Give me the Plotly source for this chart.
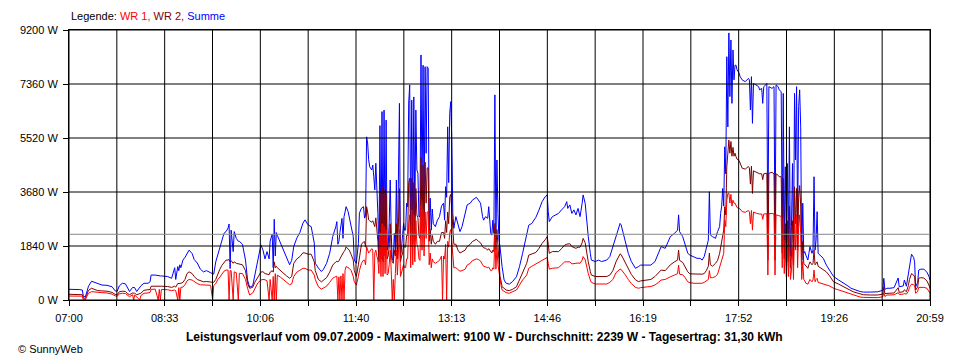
import plotly.graph_objects as go

# ---- data (minutes after 07:00, watts) ----
minutes = [0,5,10,13,14,16,17,19,22,25,28,32,37,42,45,47,49,52,55,57,59,62,63,64,66,69,70,73,77,79,80,84,87,88,89,90,96,100,103,104,106,107,108,109,111,113,115,117,120,122,125,128,131,134,138,140,141,143,145,147,149,151,153,155,156,157,158,160,161,163,165,166,169,172,174,176,179,181,184,187,189,191,193,195,196,198,199,200,201,202,203,206,209,212,215,217,
219,222,225,228,230,233,236,239,240,243,246,248,251,254,257,260,261,262,263,264,265,266,267,268,269,270,272,273,275,277,278,280,282,283,285,287,288,289,290,291,292,293,295,296,297,298,299,300,301,302,303,304,305,306,307,308,309,310,311,312,313,314,315,316,317,318,319,320,321,322,323,324,325,326,327,328,329,330,331,332,333,334,335,336,337,338,339,340,341,342,343,344,345,346,347,348,349,350,351,352,353,354,355,357,359,361,363,364,365,366,367,368,369,370,371,372,373,374,375,377,379,381,383,
386,388,391,393,397,399,401,403,404,406,408,409,411,412,413,414,415,416,417,418,419,420,421,422,424,426,429,432,436,439,442,446,448,451,455,458,461,464,466,467,468,471,474,477,480,483,485,486,488,490,492,494,496,498,500,501,503,504,506,508,509,513,516,519,524,527,530,533,537,538,540,542,545,548,552,555,557,561,564,567,571,574,577,581,583,586,590,593,594,595,598,600,603,605,609,612,615,617,619,621,623,624,625,627,630,632,
634,635,636,637,638,639,640,641,642,643,644,645,646,647,648,649,650,651,653,654,656,659,662,663,664,665,666,667,670,672,673,675,676,677,679,680,681,682,685,687,688,689,691,692,694,695,696,697,698,699,700,701,702,703,704,705,706,707,708,709,710,711,712,713,714,715,716,717,718,720,721,722,724,725,726,727,728,729,730,732,
735,738,741,745,750,755,759,762,765,769,771,774,781,788,793,794,795,797,800,804,808,809,813,814,816,818,819,821,823,824,825,827,828,830,833,836,838,839]

summe = [365,370,355,340,120,110,250,470,640,600,560,510,500,450,310,300,480,570,550,400,290,430,420,420,290,450,480,570,570,620,850,850,820,820,820,820,800,740,1100,700,1140,1000,1200,1100,1360,1450,1600,1700,1580,1380,1260,1050,960,1000,930,900,880,1300,1560,1830,2000,2270,2330,2450,2590,1070,2380,1650,2330,2100,2000,2000,1900,1360,680,440,480,840,1360,1880,1700,1400,1650,1400,2000,2250,1100,2750,1500,2300,2200,1950,1650,1420,1200,1350,
1820,2110,2300,2620,2730,2560,2500,1940,1250,1090,970,1050,1250,1590,2160,2500,2670,1900,2000,2300,2670,2780,2100,2840,3000,3180,3010,2840,2610,2160,1360,1250,1930,2960,3130,3180,2790,2850,5560,5350,4780,4540,4430,4600,4200,3750,4660,3860,2950,1590,5940,1700,6420,1360,6470,1700,6130,1700,1800,2610,4090,2270,1360,1400,2270,1700,4090,1590,3980,6700,1360,1800,1930,2610,2380,2380,3300,3180,6710,7330,2380,6810,2610,6920,2840,6470,4430,4320,2840,2850,8350,3470,8000,2840,7950,5000,7950,7900,2380,3470,2380,3100,2600,2500,2720,2840,3200,3250,3300,2720,3860,3500,5900,4000,6360,6760,5470,2960,2440,2840,2560,2330,2500,
2900,3240,3300,3400,3500,3400,3300,2840,2720,2840,2780,3180,2270,2210,2720,2270,6990,2210,4770,2950,2040,1820,1360,1140,680,570,540,620,790,1140,1590,2270,2550,2610,2820,3070,3350,3520,3580,3010,2670,2840,2900,2950,3070,3180,3350,3120,3240,2950,3070,2900,3120,2840,3290,3580,3290,2840,2160,1590,1360,1310,1360,1310,1360,1480,1820,2210,2610,2560,2270,1930,1590,1310,1080,1140,1190,1190,1190,1190,1310,1590,1820,1760,1930,2160,2270,2380,2900,2330,2160,1930,1590,1530,1480,1420,1420,1360,1480,1760,2040,3690,2210,2160,2100,2330,
2500,2950,3200,3800,3200,5220,4300,8290,5900,9100,6930,8860,6700,8520,7500,8000,8000,7840,7730,7610,7500,7440,7550,7500,6475,7610,6020,7380,7330,7270,7160,7210,6700,7270,7330,7380,2040,7270,7210,7270,2040,7330,7270,7160,7100,2270,7040,2040,4540,1930,4650,1820,5900,1500,2500,4650,1700,7040,4770,7270,2500,6590,7160,5900,1360,3300,1590,1650,1530,1360,1590,1820,1590,1700,4200,1700,2040,3010,1590,1530,
1420,1190,1020,800,680,580,480,400,350,310,290,270,270,280,330,740,360,400,400,420,750,450,480,680,470,900,1250,1560,1450,1300,450,600,1020,1050,1050,950,800,680]

wr2 = [195,195,190,180,60,60,150,330,400,370,320,310,300,260,190,180,280,300,290,220,180,240,230,230,180,220,230,330,340,360,470,480,470,470,470,470,460,430,470,440,560,560,580,570,600,700,900,960,900,800,700,650,620,630,610,600,600,700,900,1050,1180,1280,1360,1360,1380,1300,1340,1250,1300,1250,1230,1230,1200,1000,560,400,430,600,800,950,965,900,880,860,950,1000,950,1300,1100,1150,1100,1000,900,820,740,800,
1250,1400,1480,1610,1600,1560,1560,1300,1000,700,620,680,760,950,1190,1300,1320,1300,1330,1400,1480,1550,1600,1650,1700,1810,1750,1700,1550,1360,1000,800,1200,1500,1900,1980,1990,1800,3180,3000,2730,2700,2650,2700,2600,2500,2800,2400,2000,1300,3700,1400,3860,1300,3750,1500,3600,1400,1500,1800,2600,1600,1300,1250,1700,1500,2600,1400,2600,3800,1300,1500,1550,1900,1800,1800,2200,2200,4000,4150,1800,4150,1900,4000,2000,3800,2900,2800,2200,2100,4870,2500,4600,2300,4700,3300,4500,4500,2000,2400,1900,2200,2000,1900,2000,2000,2300,2300,2300,2100,2700,2300,3000,2600,3500,3600,3000,2100,1900,1900,1700,1600,1650,
1700,1820,1900,1990,2070,2000,1950,1820,1780,1760,1700,1750,1650,1600,1700,1650,2610,1700,2400,1800,1250,800,650,450,400,340,320,360,450,680,960,1250,1530,1560,1620,1760,1930,2050,2160,1900,1590,1650,1650,1650,1750,1870,1900,1900,1920,1820,1800,1760,1800,1800,1950,2100,1950,1700,1300,970,850,800,800,800,800,850,1000,1300,1570,1550,1420,1250,1050,870,690,625,650,680,700,700,800,900,1020,1000,1080,1200,1300,1360,1700,1350,1280,1150,960,890,880,870,870,880,900,1000,1150,1600,1200,1150,1250,1350,
1590,1760,1930,2200,2385,3180,2900,4540,5220,5450,5000,5400,4900,5200,4900,5000,4880,4800,4750,4650,4490,4460,4550,4500,3950,4560,3630,4400,4350,4320,4300,4300,4100,4300,4300,4320,1360,4320,4350,4300,1360,4300,4250,4200,4200,1600,4150,1400,2600,1300,2700,1300,3200,1100,1500,2700,1200,3860,2600,3800,1700,3500,3900,3200,1200,2000,1250,1200,1140,1080,1200,1300,1200,1250,1700,1200,1250,1300,1150,1100,
1050,960,830,620,540,460,390,320,270,230,200,180,170,170,200,450,220,230,230,240,420,260,280,350,280,500,700,900,850,780,340,450,740,760,750,650,500,400]

wr1 = [135,140,135,130,0,0,100,230,285,270,250,250,240,200,140,130,210,230,220,160,110,180,0,170,110,0,150,230,240,260,360,370,0,360,0,360,350,320,340,320,0,420,0,430,440,520,650,700,680,620,560,520,510,510,500,0,490,560,700,780,900,980,1020,1020,0,1000,1000,0,960,930,0,910,900,700,400,170,240,400,580,680,700,690,650,0,700,0,800,0,900,0,850,780,700,620,520,550,
800,950,1020,1080,1080,1020,1020,850,700,450,370,400,470,600,740,800,810,0,790,0,820,0,900,0,1000,1140,1100,1080,1000,800,620,510,800,1000,1250,1360,1360,1200,1820,1700,1600,1650,1750,1700,0,1600,1700,1500,1360,900,2300,800,2600,800,2500,900,2400,850,900,1200,1700,1000,0,700,0,900,1700,850,1650,2400,800,950,1000,1200,1100,1100,1400,1400,2600,2900,1100,3070,1200,2900,1300,2700,1900,1800,1400,1350,3200,1700,3100,1500,3000,2100,3000,3000,1200,1600,1100,1400,1300,1250,1300,1350,1500,0,1500,1400,1900,0,2000,1800,2300,2400,2000,1500,1100,1100,1050,980,1000,
1050,1190,1250,1340,1400,1380,1330,1200,1150,1130,1100,1120,1000,1000,1100,1050,2160,1050,1800,1200,900,680,500,340,300,250,230,280,340,510,680,850,1080,1150,1230,1300,1360,1400,1450,1250,1050,1080,1100,1100,1200,1300,1300,1300,1300,1230,1250,1250,1260,1250,1360,1480,1370,1170,900,680,600,545,545,545,545,600,700,930,1050,1040,960,860,700,560,430,400,420,450,450,460,510,590,680,700,740,790,850,900,1190,880,860,780,620,590,570,570,570,570,600,650,700,1000,760,760,800,880,
1140,1250,1420,1500,1590,2726,2500,3400,3630,3640,3300,3600,3200,3400,3300,3300,3240,3150,3120,3100,3010,2990,3050,3000,2600,3050,2380,3000,2950,2930,2930,2930,2750,2930,2930,2940,850,2940,2950,2930,850,2900,2880,2870,2850,1100,2800,900,1800,800,1900,800,2200,700,1000,1800,700,2900,1700,2900,1100,2500,2900,2300,700,1300,700,650,570,540,620,700,620,680,1020,620,700,740,600,580,
560,520,480,400,340,290,240,190,150,120,100,90,80,80,110,250,120,170,170,180,250,190,200,220,200,300,430,540,520,500,230,300,430,430,430,400,300,230]

average_w = 2239
total_minutes = 839
x_labels = ["07:00", "08:33", "10:06", "11:40", "13:13", "14:46", "16:19", "17:52", "19:26", "20:59"]
y_ticks = [0, 1840, 3680, 5520, 7360, 9200]
y_labels = ["0 W", "1840 W", "3680 W", "5520 W", "7360 W", "9200 W"]
title_text = "Leistungsverlauf vom 09.07.2009 - Maximalwert: 9100 W - Durchschnitt: 2239 W - Tagesertrag: 31,30 kWh"

FONT = "Liberation Sans, Arial, sans-serif"

n_grid = 2 * (len(x_labels) - 1)
grid_x = [i * total_minutes / n_grid for i in range(n_grid + 1)]
grid_text = [x_labels[i // 2] if i % 2 == 0 else "" for i in range(n_grid + 1)]

fig = go.Figure()
fig.add_trace(go.Scatter(x=minutes, y=summe, mode="lines", name="Summe",
                         line=dict(color="#0000FF", width=1)))
fig.add_trace(go.Scatter(x=minutes, y=wr2, mode="lines", name="WR 2",
                         line=dict(color="#800000", width=1)))
fig.add_trace(go.Scatter(x=minutes, y=wr1, mode="lines", name="WR 1",
                         line=dict(color="#FF0000", width=1)))

shapes = []
for gx in grid_x:
    shapes.append(dict(type="line", xref="x", yref="y", x0=gx, x1=gx, y0=0, y1=y_ticks[-1],
                       line=dict(color="black", width=1), layer="above"))
for gy in y_ticks:
    shapes.append(dict(type="line", xref="x", yref="y", x0=0, x1=total_minutes, y0=gy, y1=gy,
                       line=dict(color="black", width=1), layer="above"))
shapes.append(dict(type="line", xref="x", yref="y", x0=0, x1=total_minutes, y0=average_w, y1=average_w,
                   line=dict(color="#888888", width=1), layer="above"))

# page body has an 8px default margin: figure is 952x352 so the plot sits at 60..930 x 30..300 in the window
fig.update_layout(
    width=952, height=352,
    margin=dict(l=52, r=30, t=22, b=60),
    paper_bgcolor="white", plot_bgcolor="white",
    showlegend=False,
    shapes=shapes,
    font=dict(family=FONT, size=11, color="black"),
    xaxis=dict(range=[0, total_minutes], tickmode="array", tickvals=grid_x, ticktext=grid_text,
               showgrid=False, zeroline=False, showline=True, mirror=True, linecolor="black", linewidth=1,
               ticks="outside", ticklen=5, tickcolor="black", tickwidth=1, ticklabelstandoff=3,
               tickfont=dict(family=FONT, size=11, color="black")),
    yaxis=dict(range=[0, y_ticks[-1]], tickmode="array", tickvals=y_ticks, ticktext=y_labels,
               showgrid=False, zeroline=False, showline=True, mirror=True, linecolor="black", linewidth=1,
               ticks="outside", ticklen=5, tickcolor="black", tickwidth=1, ticklabelstandoff=3,
               tickfont=dict(family=FONT, size=11, color="black")),
    annotations=[
        dict(xref="paper", yref="paper", x=0, y=(300 - 16.5) / 270, xanchor="left", yanchor="middle",
             showarrow=False, font=dict(family=FONT, size=11),
             text="Legende: <span style='color:#FF0000'>WR 1,</span> <span style='color:#800000'>WR 2,</span> <span style='color:#0000FF'>Summe</span>"),
        dict(xref="paper", yref="paper", x=(480 - 60) / 870, y=(300 - 337) / 270, xanchor="center", yanchor="middle",
             showarrow=False, font=dict(family=FONT, size=12), text="<b>" + title_text + "</b>"),
        dict(xref="paper", yref="paper", x=(6 - 60) / 870, y=(300 - 349) / 270, xanchor="left", yanchor="middle",
             showarrow=False, font=dict(family=FONT, size=11), text="© SunnyWeb"),
    ],
)

fig.write_html("out.html")
